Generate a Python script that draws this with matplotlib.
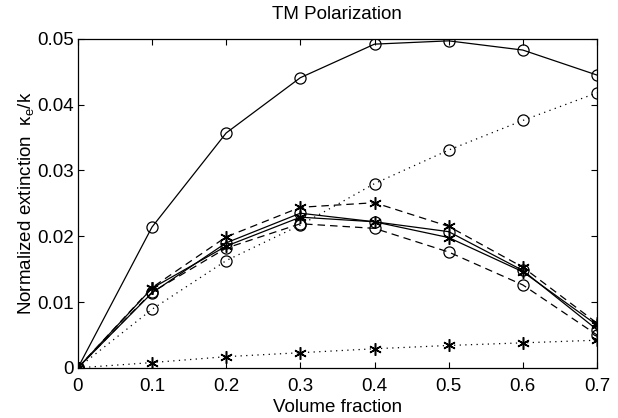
import matplotlib.pyplot as plt

plt.rcParams['font.family'] = ['Liberation Sans', 'DejaVu Sans']
plt.rcParams['mathtext.fontset'] = 'custom'
plt.rcParams['mathtext.rm'] = 'Liberation Sans'
plt.rcParams['mathtext.it'] = 'Liberation Sans'

fraction = [0, 0.1, 0.2, 0.3, 0.4, 0.5, 0.6, 0.7]

# solid lines
solid_circ = [0, 0.0214, 0.0357, 0.0441, 0.0492, 0.0497, 0.0483, 0.0445]
solid_circ2 = [0, 0.0114, 0.0190, 0.0235, 0.0222, 0.0207, 0.0148, 0.0058]
solid_star = [0, 0.0121, 0.0185, 0.0229, 0.0222, 0.0198, 0.0146, 0.0065]
# dashed lines
dash_star = [0, 0.0122, 0.0199, 0.0244, 0.0251, 0.0215, 0.0153, 0.0068]
dash_circ = [0, 0.0115, 0.0182, 0.0219, 0.0212, 0.0176, 0.0126, 0.0050]
# dotted lines
dot_circ = [0, 0.0089, 0.0163, 0.0217, 0.0280, 0.0331, 0.0376, 0.0418]
dot_star = [0, 0.0008, 0.0017, 0.0023, 0.0029, 0.0034, 0.0038, 0.0042]

fig = plt.figure(figsize=(6.18, 4.18), dpi=100)
ax = fig.add_axes([0.126, 0.12, 0.84, 0.787])

lw = 0.9
ast = (6, 2, 0)
dots = (0, (1, 3.5))
dash = (0, (6, 4))
circ = dict(marker='o', markersize=8, mfc='none', mec='k', mew=0.9)
star = dict(marker=ast, markersize=9, mec='k', mew=1.1)

ax.plot(fraction, solid_circ, color='k', lw=lw, **circ)
ax.plot(fraction, dot_circ, color='k', lw=lw, linestyle=dots, **circ)
ax.plot(fraction, dot_star, color='k', lw=lw, linestyle=dots, **star)
ax.plot(fraction, dash_circ, color='k', lw=lw, linestyle=dash, **circ)
ax.plot(fraction, solid_circ2, color='k', lw=lw, **circ)
ax.plot(fraction, dash_star, color='k', lw=lw, linestyle=dash, **star)
ax.plot(fraction, solid_star, color='k', lw=lw, **star)

ax.set_xlim(0, 0.7)
ax.set_ylim(0, 0.05)
ax.set_xticks(fraction)
ax.set_xticklabels(['0', '0.1', '0.2', '0.3', '0.4', '0.5', '0.6', '0.7'])
ax.set_yticks([0, 0.01, 0.02, 0.03, 0.04, 0.05])
ax.set_yticklabels(['0', '0.01', '0.02', '0.03', '0.04', '0.05'])
ax.tick_params(direction='in', top=True, right=True, labelsize=13.5, length=4)
ax.tick_params(axis='x', pad=7)
ax.tick_params(axis='y', pad=3)
for s in ax.spines.values():
    s.set_linewidth(0.9)

ax.set_title('TM Polarization', fontsize=13.5, pad=14)
ax.set_xlabel('Volume fraction', fontsize=13.5, labelpad=3)
ax.set_ylabel(r'Normalized extinction  $\kappa_e$/k', fontsize=13.5, labelpad=1)

fig.savefig('out.png', dpi=100)
